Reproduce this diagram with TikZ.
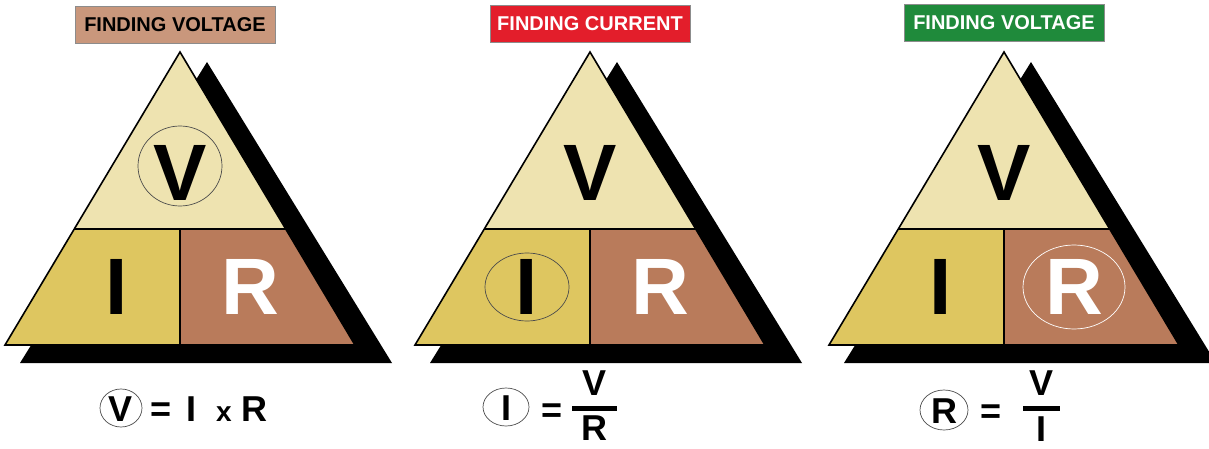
\documentclass[tikz,border=0pt]{standalone}
\usepackage{fontspec}
\setmainfont{Liberation Sans}
\usepackage{tikz}
\usetikzlibrary{calc}

\definecolor{topcream}{HTML}{EEE3B0}
\definecolor{leftgold}{HTML}{DEC660}
\definecolor{rightbrown}{HTML}{B97B5B}
\definecolor{tagtan}{HTML}{C9977C}
\definecolor{tagred}{HTML}{E31E2B}
\definecolor{taggreen}{HTML}{1F8A3B}

\begin{document}
\begin{tikzpicture}[x=1pt, y=-1pt,
    letter/.style={inner sep=0pt, font=\fontsize{80}{80}\selectfont\bfseries},
    tag/.style={draw=black!45, line width=0.8pt, minimum width=200pt, minimum height=37pt,
        inner sep=0pt, font=\fontsize{20}{20}\selectfont\bfseries},
    eqn/.style={inner sep=0pt, anchor=base, font=\fontsize{36}{36}\selectfont\bfseries},
    ring/.style={line width=0.7pt, draw=black!70}]
    \useasboundingbox (0,0) rectangle (1209,449);

    \foreach \n/\cx in {1/180, 2/590, 3/1004} {
        \fill (\cx+27,62) -- (\cx+212,363) -- (\cx-160,363) -- cycle;
        \fill[topcream] (\cx,52) -- (\cx+106,229) -- (\cx-106,229) -- cycle;
        \fill[leftgold] (\cx-106,229) -- (\cx,229) -- (\cx,345) -- (\cx-175,345) -- cycle;
        \fill[rightbrown] (\cx,229) -- (\cx+106,229) -- (\cx+175,345) -- (\cx,345) -- cycle;
        \draw[line width=1.6pt] (\cx,52) -- (\cx+175,345) -- (\cx-175,345) -- cycle;
        \draw[line width=1.6pt] (\cx-106,229) -- (\cx+106,229) (\cx,229) -- (\cx,345);
        \node[letter] (v\n) at (\cx,173) {V};
        \node[letter] (i\n) at (\cx-63,287) {I};
        \node[letter, white] (r\n) at (\cx+70,287) {R};
    }

    \node[tag, fill=tagtan] (tag1) at (175,25) {FINDING VOLTAGE};
    \node[tag, fill=tagred, text=white] (tag2) at (590,24) {FINDING CURRENT};
    \node[tag, fill=taggreen, text=white] (tag3) at (1004,23) {FINDING VOLTAGE};

    \draw[ring] ([yshift=7pt]v1.center) ellipse [x radius=42, y radius=40];
    \draw[ring] (i2) ellipse [x radius=42, y radius=34];
    \draw[ring, draw=white] (r3) ellipse [x radius=51, y radius=42];

    % V = I x R
    \node[eqn] (fv1) at (121,421) {V};
    \draw[ring] ([yshift=13pt]fv1.base) ellipse [x radius=21, y radius=19];
    \node[eqn] (feq1) at (161,421) {=};
    \node[eqn] (fi1) at (191,421) {I};
    \node[eqn, font=\fontsize{28}{28}\selectfont\bfseries] (fx1) at (224,421) {x};
    \node[eqn] (fr1) at (254,421) {R};

    % I = V / R
    \node[eqn] (fi2) at (506,420) {I};
    \draw[ring] ([yshift=13pt]fi2.base) ellipse [x radius=23, y radius=19];
    \node[eqn] (feq2) at (552,422) {=};
    \coordinate (bar2a) at (572,408.5);
    \coordinate (bar2b) at (617,408.5);
    \draw[line width=4.5pt] (bar2a) -- (bar2b);
    \node[eqn] (fv2) at (594,395) {V};
    \node[eqn] (fr2) at (594,440) {R};

    % R = V / I
    \node[eqn] (fr3) at (944,423) {R};
    \draw[ring] ([yshift=13pt]fr3.base) ellipse [x radius=24, y radius=20];
    \node[eqn] (feq3) at (991,423) {=};
    \coordinate (bar3a) at (1023,408.5);
    \coordinate (bar3b) at (1060,408.5);
    \draw[line width=4.5pt] (bar3a) -- (bar3b);
    \node[eqn] (fv3) at (1041,395) {V};
    \node[eqn] (fi3) at (1041,441) {I};
\end{tikzpicture}
\end{document}
